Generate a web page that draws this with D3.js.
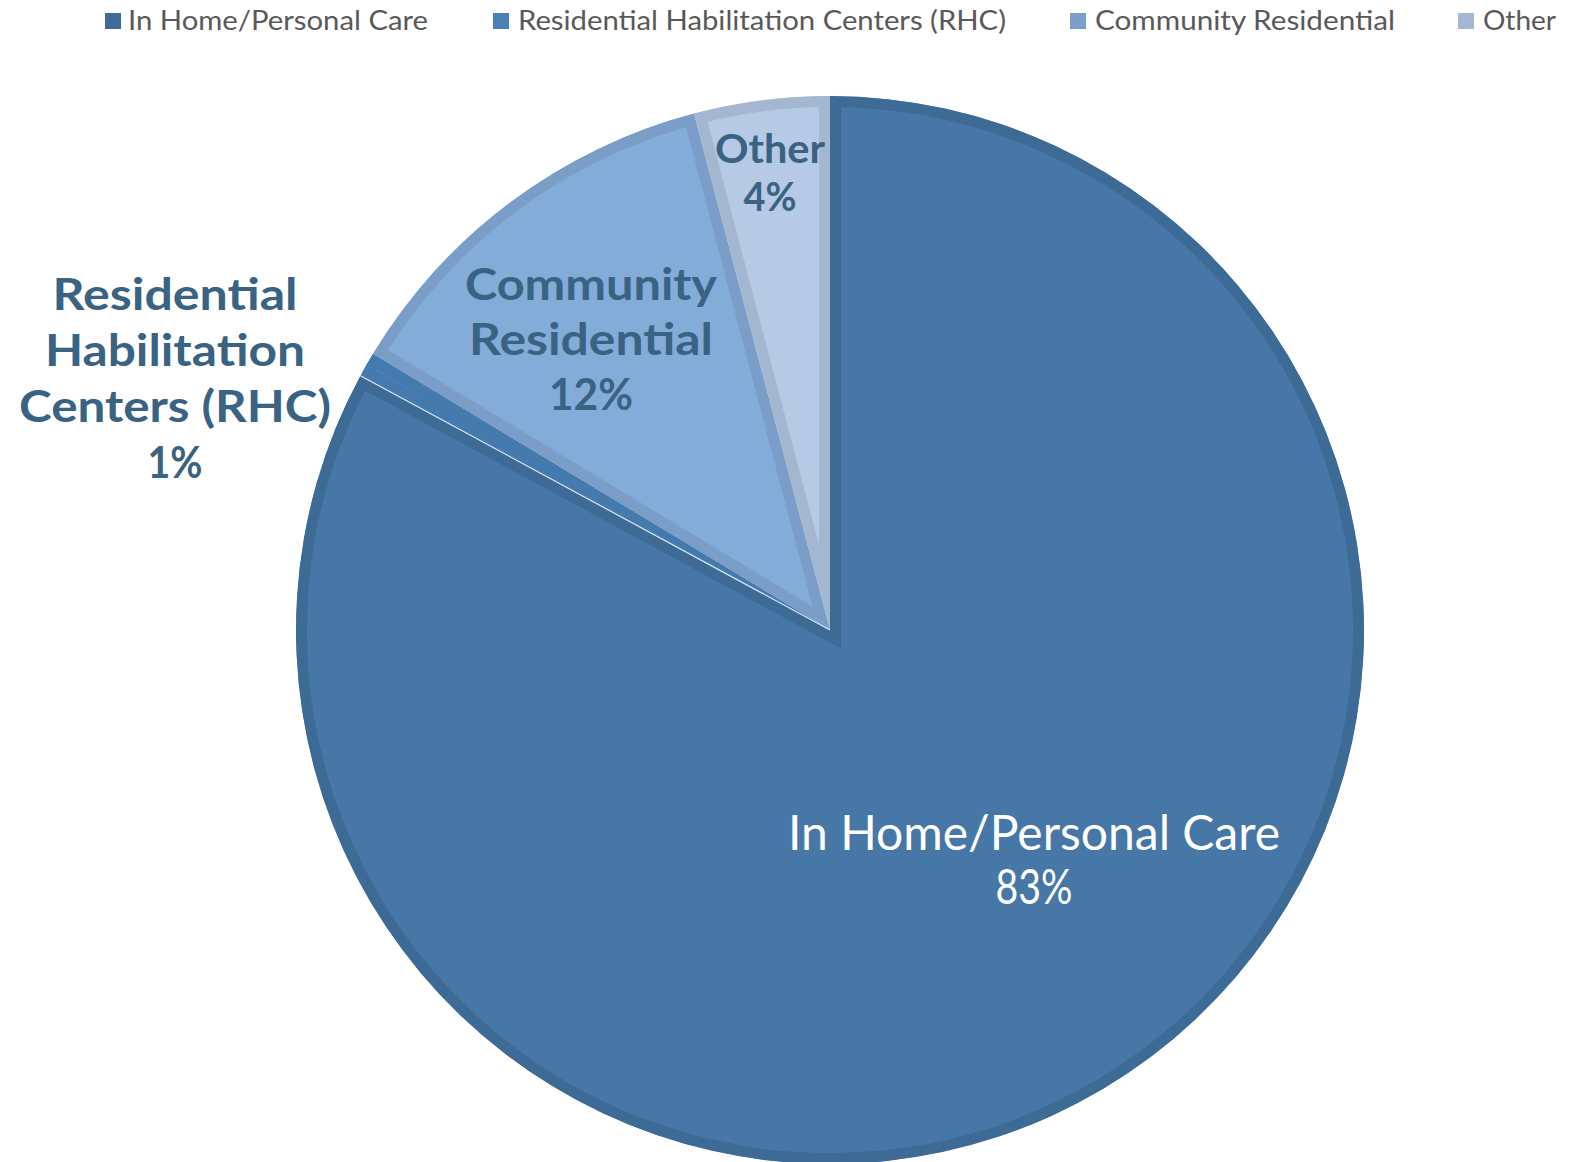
<!DOCTYPE html>
<html>
<head>
<meta charset="utf-8">
<script src="https://cdn.jsdelivr.net/npm/d3@7"></script>
<style>
  html, body { margin: 0; padding: 0; background: #ffffff; }
  svg { display: block; }
</style>
</head>
<body>
<svg id="chart" width="1588" height="1162"></svg>
<script>
// ---- data ----
const categories = ["In Home/Personal Care", "Residential Habilitation Centers (RHC)", "Community Residential", "Other"];
const values = [82.9, 0.75, 12.25, 4.1];
const labelLines = [
  ["In Home/Personal Care"],
  ["Residential", "Habilitation", "Centers (RHC)"],
  ["Community", "Residential"],
  ["Other"]
];

// ---- styles ----
const fillColors   = ["#4677a6", "#4a80b8", "#84acd8", "#b6c9e5"];
const strokeColors = ["#3e6b95", "#447aae", "#7a9ec8", "#a4b7d0"];
const legendColors = ["#3f6b96", "#4a80b6", "#7a9fc8", "#a5b8d2"];

const svg = d3.select("#chart");
const cx = 830, cy = 630, R = 534;

const pie = d3.pie().sort(null).value(d => d);
const arcs = pie(values);
const arc = d3.arc().innerRadius(0).outerRadius(R);

const g = svg.append("g").attr("transform", `translate(${cx},${cy})`);
const defs = svg.append("defs");

arcs.forEach((a, i) => {
  defs.append("clipPath").attr("id", "clip" + i)
    .append("path").attr("d", arc(a));
});

const slices = g.selectAll("g.slice").data(arcs).join("g").attr("class", "slice");
slices.append("path")
  .attr("d", arc)
  .attr("fill", (d, i) => fillColors[i])
  .attr("stroke", (d, i) => strokeColors[i])
  .attr("stroke-width", 22)
  .attr("stroke-linejoin", "miter")
  .attr("clip-path", (d, i) => `url(#clip${i})`);

// thin highlight on the In Home / RHC boundary
const bAng = arcs[1].startAngle;
g.append("line")
  .attr("x1", 0).attr("y1", 0)
  .attr("x2", R * Math.sin(bAng)).attr("y2", -R * Math.cos(bAng))
  .attr("stroke", "#dfe8f2").attr("stroke-width", 1.2);

// ---- data labels ----
const pct = d3.format(".0%");
const total = d3.sum(values);
const labelLayout = [
  { x: 1034, y0: 850, dy: 54, size: 48, weight: 400, fill: "#ffffff", widths: [492, 77] },
  { x: 175, y0: 310, dy: 56, size: 44, weight: 700, fill: "#3a6282", widths: [245, 260, 312, 55] },
  { x: 591, y0: 300, dy: 55, size: 44, weight: 700, fill: "#3a6282", widths: [252, 244, 84] },
  { x: 770, y0: 163, dy: 48, size: 40, weight: 700, fill: "#3a6282", widths: [110, 53] }
];
labelLayout.forEach((L, i) => {
  const lines = labelLines[i].concat([pct(values[i] / total)]);
  lines.forEach((t, j) => {
    svg.append("text")
      .attr("x", L.x).attr("y", L.y0 + j * L.dy)
      .attr("text-anchor", "middle")
      .attr("font-family", "Lato, 'Open Sans', sans-serif")
      .attr("font-size", L.size)
      .attr("font-weight", L.weight)
      .attr("fill", L.fill)
      .attr("textLength", L.widths[j])
      .attr("lengthAdjust", "spacingAndGlyphs")
      .text(t);
  });
});

// ---- legend ----
const legendLayout = [
  { sx: 105, tx: 128, w: 300 },
  { sx: 493, tx: 518, w: 488 },
  { sx: 1070, tx: 1095, w: 300 },
  { sx: 1458, tx: 1483, w: 73 }
];
const lg = svg.append("g");
categories.forEach((c, i) => {
  const L = legendLayout[i];
  lg.append("rect").attr("x", L.sx).attr("y", 13).attr("width", 16).attr("height", 16)
    .attr("fill", legendColors[i]);
  lg.append("text").attr("x", L.tx).attr("y", 30)
    .attr("font-family", "Lato, 'Open Sans', sans-serif")
    .attr("font-size", 26)
    .attr("fill", "#595959")
    .attr("textLength", L.w)
    .attr("lengthAdjust", "spacingAndGlyphs")
    .text(c);
});
</script>
</body>
</html>
